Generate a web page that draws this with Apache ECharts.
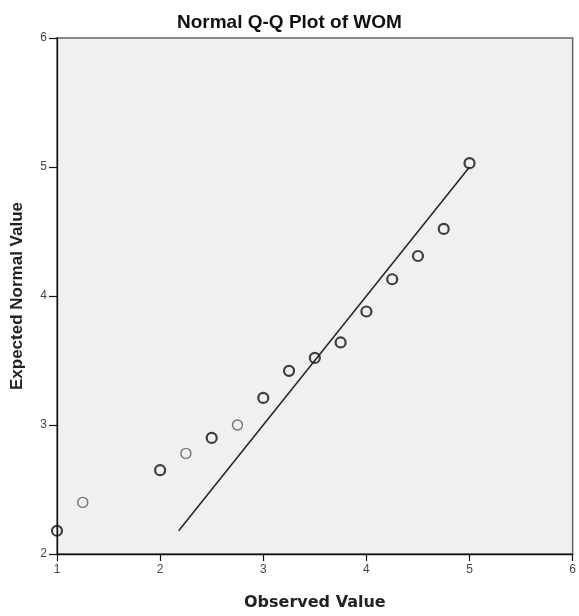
<!DOCTYPE html>
<html>
<head>
<meta charset="utf-8">
<script src="https://cdn.jsdelivr.net/npm/echarts@6/dist/echarts.min.js"></script>
<style>
  html, body { margin: 0; padding: 0; background: #ffffff; }
  #chart { width: 579px; height: 616px; }
</style>
</head>
<body>
<div id="chart"></div>
<script>
// Observed WOM scores and their expected normal quantiles
const observed = [1, 1.25, 2, 2.25, 2.5, 2.75, 3, 3.25, 3.5, 3.75, 4, 4.25, 4.5, 4.75, 5];
const expected = [2.18, 2.40, 2.65, 2.78, 2.90, 3.00, 3.21, 3.42, 3.52, 3.64, 3.88, 4.13, 4.31, 4.52, 5.03];
// Points drawn only once (lighter outline) versus overprinted cases
const singleCase = [false, true, false, true, false, true, false, false, false, false, false, false, false, false, false];
// Reference line y = x across the expected range
const refLine = [2.18, 5.0];
const xTicks = [1, 2, 3, 4, 5, 6];
const yTicks = [2, 3, 4, 5, 6];

const heavy = [], light = [];
observed.forEach((x, i) => (singleCase[i] ? light : heavy).push([x, expected[i]]));

const chart = echarts.init(document.getElementById('chart'), null, { renderer: 'canvas' });
const tickFont = { color: '#444', fontSize: 12, fontFamily: 'Liberation Sans, Arial, sans-serif' };

chart.setOption({
  animation: false,
  title: {
    text: 'Normal Q-Q Plot of WOM',
    left: 172, top: 8,
    textStyle: { fontFamily: 'Liberation Sans, Arial, sans-serif', fontSize: 19, fontWeight: 'bold', color: '#111' }
  },
  grid: {
    left: 57, right: 3, top: 38, bottom: 58,
    show: true, backgroundColor: '#f0f0f0', borderColor: '#666', borderWidth: 1.5
  },
  xAxis: {
    type: 'value', min: xTicks[0], max: xTicks[xTicks.length - 1], interval: 1,
    name: 'Observed Value', nameLocation: 'middle', nameGap: 41,
    nameTextStyle: { fontFamily: 'DejaVu Sans, sans-serif', fontSize: 16, fontWeight: 'bold', color: '#222' },
    axisLine: { show: true, lineStyle: { color: '#111', width: 1.3 } },
    axisTick: { show: true, length: 7, lineStyle: { color: '#111', width: 1.2 } },
    axisLabel: Object.assign({ margin: 10 }, tickFont),
    splitLine: { show: false }
  },
  yAxis: {
    type: 'value', min: yTicks[0], max: yTicks[yTicks.length - 1], interval: 1,
    name: 'Expected Normal Value', nameLocation: 'middle', nameGap: 31,
    nameTextStyle: { fontFamily: 'Liberation Sans, Arial, sans-serif', fontSize: 17, fontWeight: 'bold', color: '#222' },
    axisLine: { show: true, lineStyle: { color: '#111', width: 1.3 } },
    axisTick: { show: true, length: 8, lineStyle: { color: '#111', width: 1.2 } },
    axisLabel: Object.assign({ margin: 10 }, tickFont),
    splitLine: { show: false }
  },
  series: [
    {
      type: 'line',
      data: [[refLine[0], refLine[0]], [refLine[1], refLine[1]]],
      showSymbol: false, silent: true,
      lineStyle: { color: '#222', width: 1.5 }
    },
    {
      type: 'scatter', data: light, symbol: 'circle', symbolSize: 10,
      itemStyle: { color: 'rgba(0,0,0,0)', borderColor: '#555', borderWidth: 1.4 }
    },
    {
      type: 'scatter', data: heavy, symbol: 'circle', symbolSize: 10,
      itemStyle: { color: 'rgba(0,0,0,0)', borderColor: '#111', borderWidth: 2.2 }
    }
  ]
});
</script>
</body>
</html>
